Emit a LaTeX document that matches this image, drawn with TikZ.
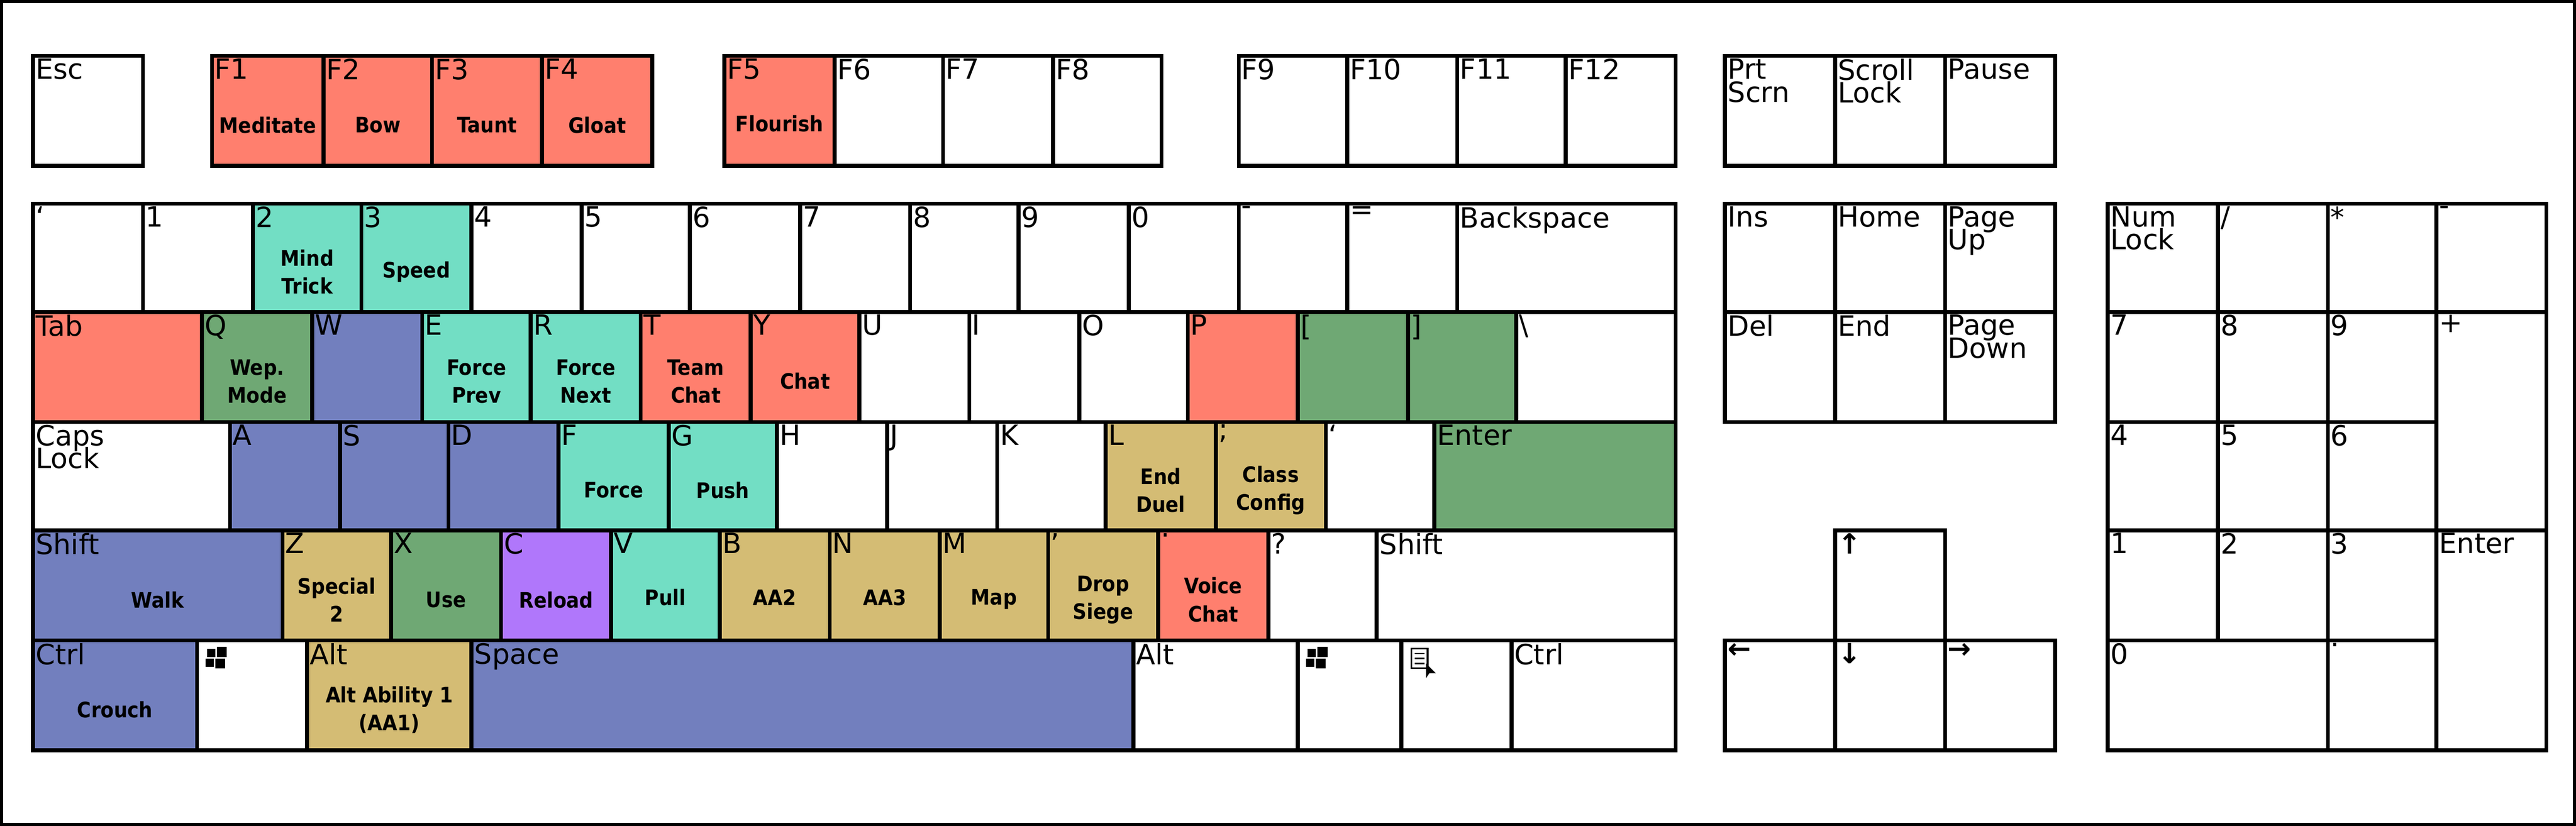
\documentclass[tikz,border=0pt]{standalone}
\usepackage{fontspec}
\setmainfont{DejaVu Sans}
\newfontfamily\condb{DejaVu Sans Condensed}[FakeBold=0]
\definecolor{kr}{HTML}{FF7F6E}
\definecolor{kt}{HTML}{72DEC4}
\definecolor{kg}{HTML}{6FA874}
\definecolor{kb}{HTML}{727FBE}
\definecolor{ky}{HTML}{D4BC74}
\definecolor{kv}{HTML}{B077FB}
\tikzset{keyline/.style={draw=black,line width=2.4pt},
 kname/.style={anchor=north west,inner sep=1.5pt,font=\fontsize{17}{17}\selectfont,align=left},
 klab/.style={inner sep=0pt,font=\condb\bfseries\fontsize{13}{17}\selectfont,align=center}}
\newcommand\K[7]{\fill[#5] (#1,#2) rectangle (#3,#4); \draw[keyline] (#1,#2) rectangle (#3,#4);
 \node[kname] at (#1,#2) {#6};
 \node[klab] at ({(#1+#3)/2},{#2+0.63*(#4-#2)}) {#7};}
\begin{document}
\begin{tikzpicture}[x=1pt,y=-1pt]
\useasboundingbox (0,0) rectangle (1568,503);
\draw[line width=2pt] (1,1) rectangle (1567,502);
% function row
\K{20}{34}{87}{101}{white}{Esc}{}
\K{129}{34}{197}{101}{kr}{F1}{Meditate}
\K{197}{34}{263}{101}{kr}{F2}{Bow}
\K{263}{34}{330}{101}{kr}{F3}{Taunt}
\K{330}{34}{397}{101}{kr}{F4}{Gloat}
\K{441}{34}{508}{101}{kr}{F5}{\raisebox{2pt}{Flourish}}
\K{508}{34}{574}{101}{white}{F6}{}
\K{574}{34}{641}{101}{white}{F7}{}
\K{641}{34}{707}{101}{white}{F8}{}
\K{754}{34}{820}{101}{white}{F9}{}
\K{820}{34}{887}{101}{white}{F10}{}
\K{887}{34}{953}{101}{white}{F11}{}
\K{953}{34}{1020}{101}{white}{F12}{}
\K{1050}{34}{1117}{101}{white}{Prt\\[-3pt]Scrn}{}
\K{1117}{34}{1184}{101}{white}{Scroll\\[-3pt]Lock}{}
\K{1184}{34}{1251}{101}{white}{Pause}{}
% number row
\K{20}{124}{87}{190}{white}{`}{}
\K{87}{124}{154}{190}{white}{1}{}
\K{154}{124}{220}{190}{kt}{2}{Mind\\Trick}
\K{220}{124}{287}{190}{kt}{3}{Speed}
\K{287}{124}{354}{190}{white}{4}{}
\K{354}{124}{420}{190}{white}{5}{}
\K{420}{124}{487}{190}{white}{6}{}
\K{487}{124}{554}{190}{white}{7}{}
\K{554}{124}{620}{190}{white}{8}{}
\K{620}{124}{687}{190}{white}{9}{}
\K{687}{124}{754}{190}{white}{0}{}
\K{754}{124}{820}{190}{white}{-}{}
\K{820}{124}{887}{190}{white}{=}{}
\K{887}{124}{1020}{190}{white}{Backspace}{}
% qwerty row
\K{20}{190}{123}{257}{kr}{Tab}{}
\K{123}{190}{190}{257}{kg}{Q}{Wep.\\Mode}
\K{190}{190}{257}{257}{kb}{W}{}
\K{257}{190}{323}{257}{kt}{E}{Force\\Prev}
\K{323}{190}{390}{257}{kt}{R}{Force\\Next}
\K{390}{190}{457}{257}{kr}{T}{Team\\Chat}
\K{457}{190}{523}{257}{kr}{Y}{Chat}
\K{523}{190}{590}{257}{white}{U}{}
\K{590}{190}{657}{257}{white}{I}{}
\K{657}{190}{723}{257}{white}{O}{}
\K{723}{190}{790}{257}{kr}{P}{}
\K{790}{190}{857}{257}{kg}{[}{}
\K{857}{190}{923}{257}{kg}{]}{}
\K{923}{190}{1020}{257}{white}{\textbackslash}{}
% home row
\K{20}{257}{140}{323}{white}{Caps\\[-3pt]Lock}{}
\K{140}{257}{207}{323}{kb}{A}{}
\K{207}{257}{273}{323}{kb}{S}{}
\K{273}{257}{340}{323}{kb}{D}{}
\K{340}{257}{407}{323}{kt}{F}{Force}
\K{407}{257}{473}{323}{kt}{G}{Push}
\K{473}{257}{540}{323}{white}{H}{}
\K{540}{257}{607}{323}{white}{J}{}
\K{607}{257}{673}{323}{white}{K}{}
\K{673}{257}{740}{323}{ky}{L}{End\\Duel}
\K{740}{257}{807}{323}{ky}{;}{Class\\Config}
\K{807}{257}{873}{323}{white}{`}{}
\K{873}{257}{1020}{323}{kg}{Enter}{}
% shift row
\K{20}{323}{172}{390}{kb}{Shift}{Walk}
\K{172}{323}{238}{390}{ky}{Z}{Special\\2}
\K{238}{323}{305}{390}{kg}{X}{Use}
\K{305}{323}{372}{390}{kv}{C}{Reload}
\K{372}{323}{438}{390}{kt}{V}{\raisebox{3pt}{Pull}}
\K{438}{323}{505}{390}{ky}{B}{\raisebox{3pt}{AA2}}
\K{505}{323}{572}{390}{ky}{N}{\raisebox{3pt}{AA3}}
\K{572}{323}{638}{390}{ky}{M}{\raisebox{3pt}{Map}}
\K{638}{323}{705}{390}{ky}{,}{Drop\\Siege}
\K{705}{323}{772}{390}{kr}{.}{Voice\\Chat}
\K{772}{323}{838}{390}{white}{?}{}
\K{838}{323}{1020}{390}{white}{Shift}{}
% bottom row
\K{20}{390}{120}{457}{kb}{Ctrl}{Crouch}
\K{120}{390}{187}{457}{white}{}{}
\K{187}{390}{287}{457}{ky}{Alt}{Alt Ability 1\\(AA1)}
\K{287}{390}{690}{457}{kb}{Space}{}
\K{690}{390}{790}{457}{white}{Alt}{}
\K{790}{390}{853}{457}{white}{}{}
\K{853}{390}{920}{457}{white}{}{}
\K{920}{390}{1020}{457}{white}{Ctrl}{}
% windows logos
\foreach \wx in {126,796}{
 \fill (\wx,395) rectangle ++(5,5); \fill (\wx+6,394) rectangle ++(6,6);
 \fill (\wx-1,401) rectangle ++(5,5); \fill (\wx+5,401) rectangle ++(6,6);}
% menu icon
\draw[line width=1pt] (859,395) rectangle (869,407);
\foreach \ly in {398,401,404} \draw[line width=0.8pt] (861,\ly) -- (867,\ly);
\fill (868,404) -- (874,410) -- (870,410) -- (868,413) -- cycle;
% navigation
\K{1050}{124}{1117}{190}{white}{Ins}{}
\K{1117}{124}{1184}{190}{white}{Home}{}
\K{1184}{124}{1251}{190}{white}{Page\\[-3pt]Up}{}
\K{1050}{190}{1117}{257}{white}{Del}{}
\K{1117}{190}{1184}{257}{white}{End}{}
\K{1184}{190}{1251}{257}{white}{Page\\[-3pt]Down}{}
\K{1117}{323}{1184}{390}{white}{\textbf{↑}}{}
\K{1050}{390}{1117}{457}{white}{\textbf{←}}{}
\K{1117}{390}{1184}{457}{white}{\textbf{↓}}{}
\K{1184}{390}{1251}{457}{white}{\textbf{→}}{}
% numpad
\K{1283}{124}{1350}{190}{white}{Num\\[-3pt]Lock}{}
\K{1350}{124}{1417}{190}{white}{/}{}
\K{1417}{124}{1483}{190}{white}{*}{}
\K{1483}{124}{1550}{190}{white}{-}{}
\K{1283}{190}{1350}{257}{white}{7}{}
\K{1350}{190}{1417}{257}{white}{8}{}
\K{1417}{190}{1483}{257}{white}{9}{}
\K{1483}{190}{1550}{323}{white}{+}{}
\K{1283}{257}{1350}{323}{white}{4}{}
\K{1350}{257}{1417}{323}{white}{5}{}
\K{1417}{257}{1483}{323}{white}{6}{}
\K{1283}{323}{1350}{390}{white}{1}{}
\K{1350}{323}{1417}{390}{white}{2}{}
\K{1417}{323}{1483}{390}{white}{3}{}
\K{1483}{323}{1550}{457}{white}{Enter}{}
\K{1283}{390}{1417}{457}{white}{0}{}
\K{1417}{390}{1483}{457}{white}{.}{}
\end{tikzpicture}
\end{document}
